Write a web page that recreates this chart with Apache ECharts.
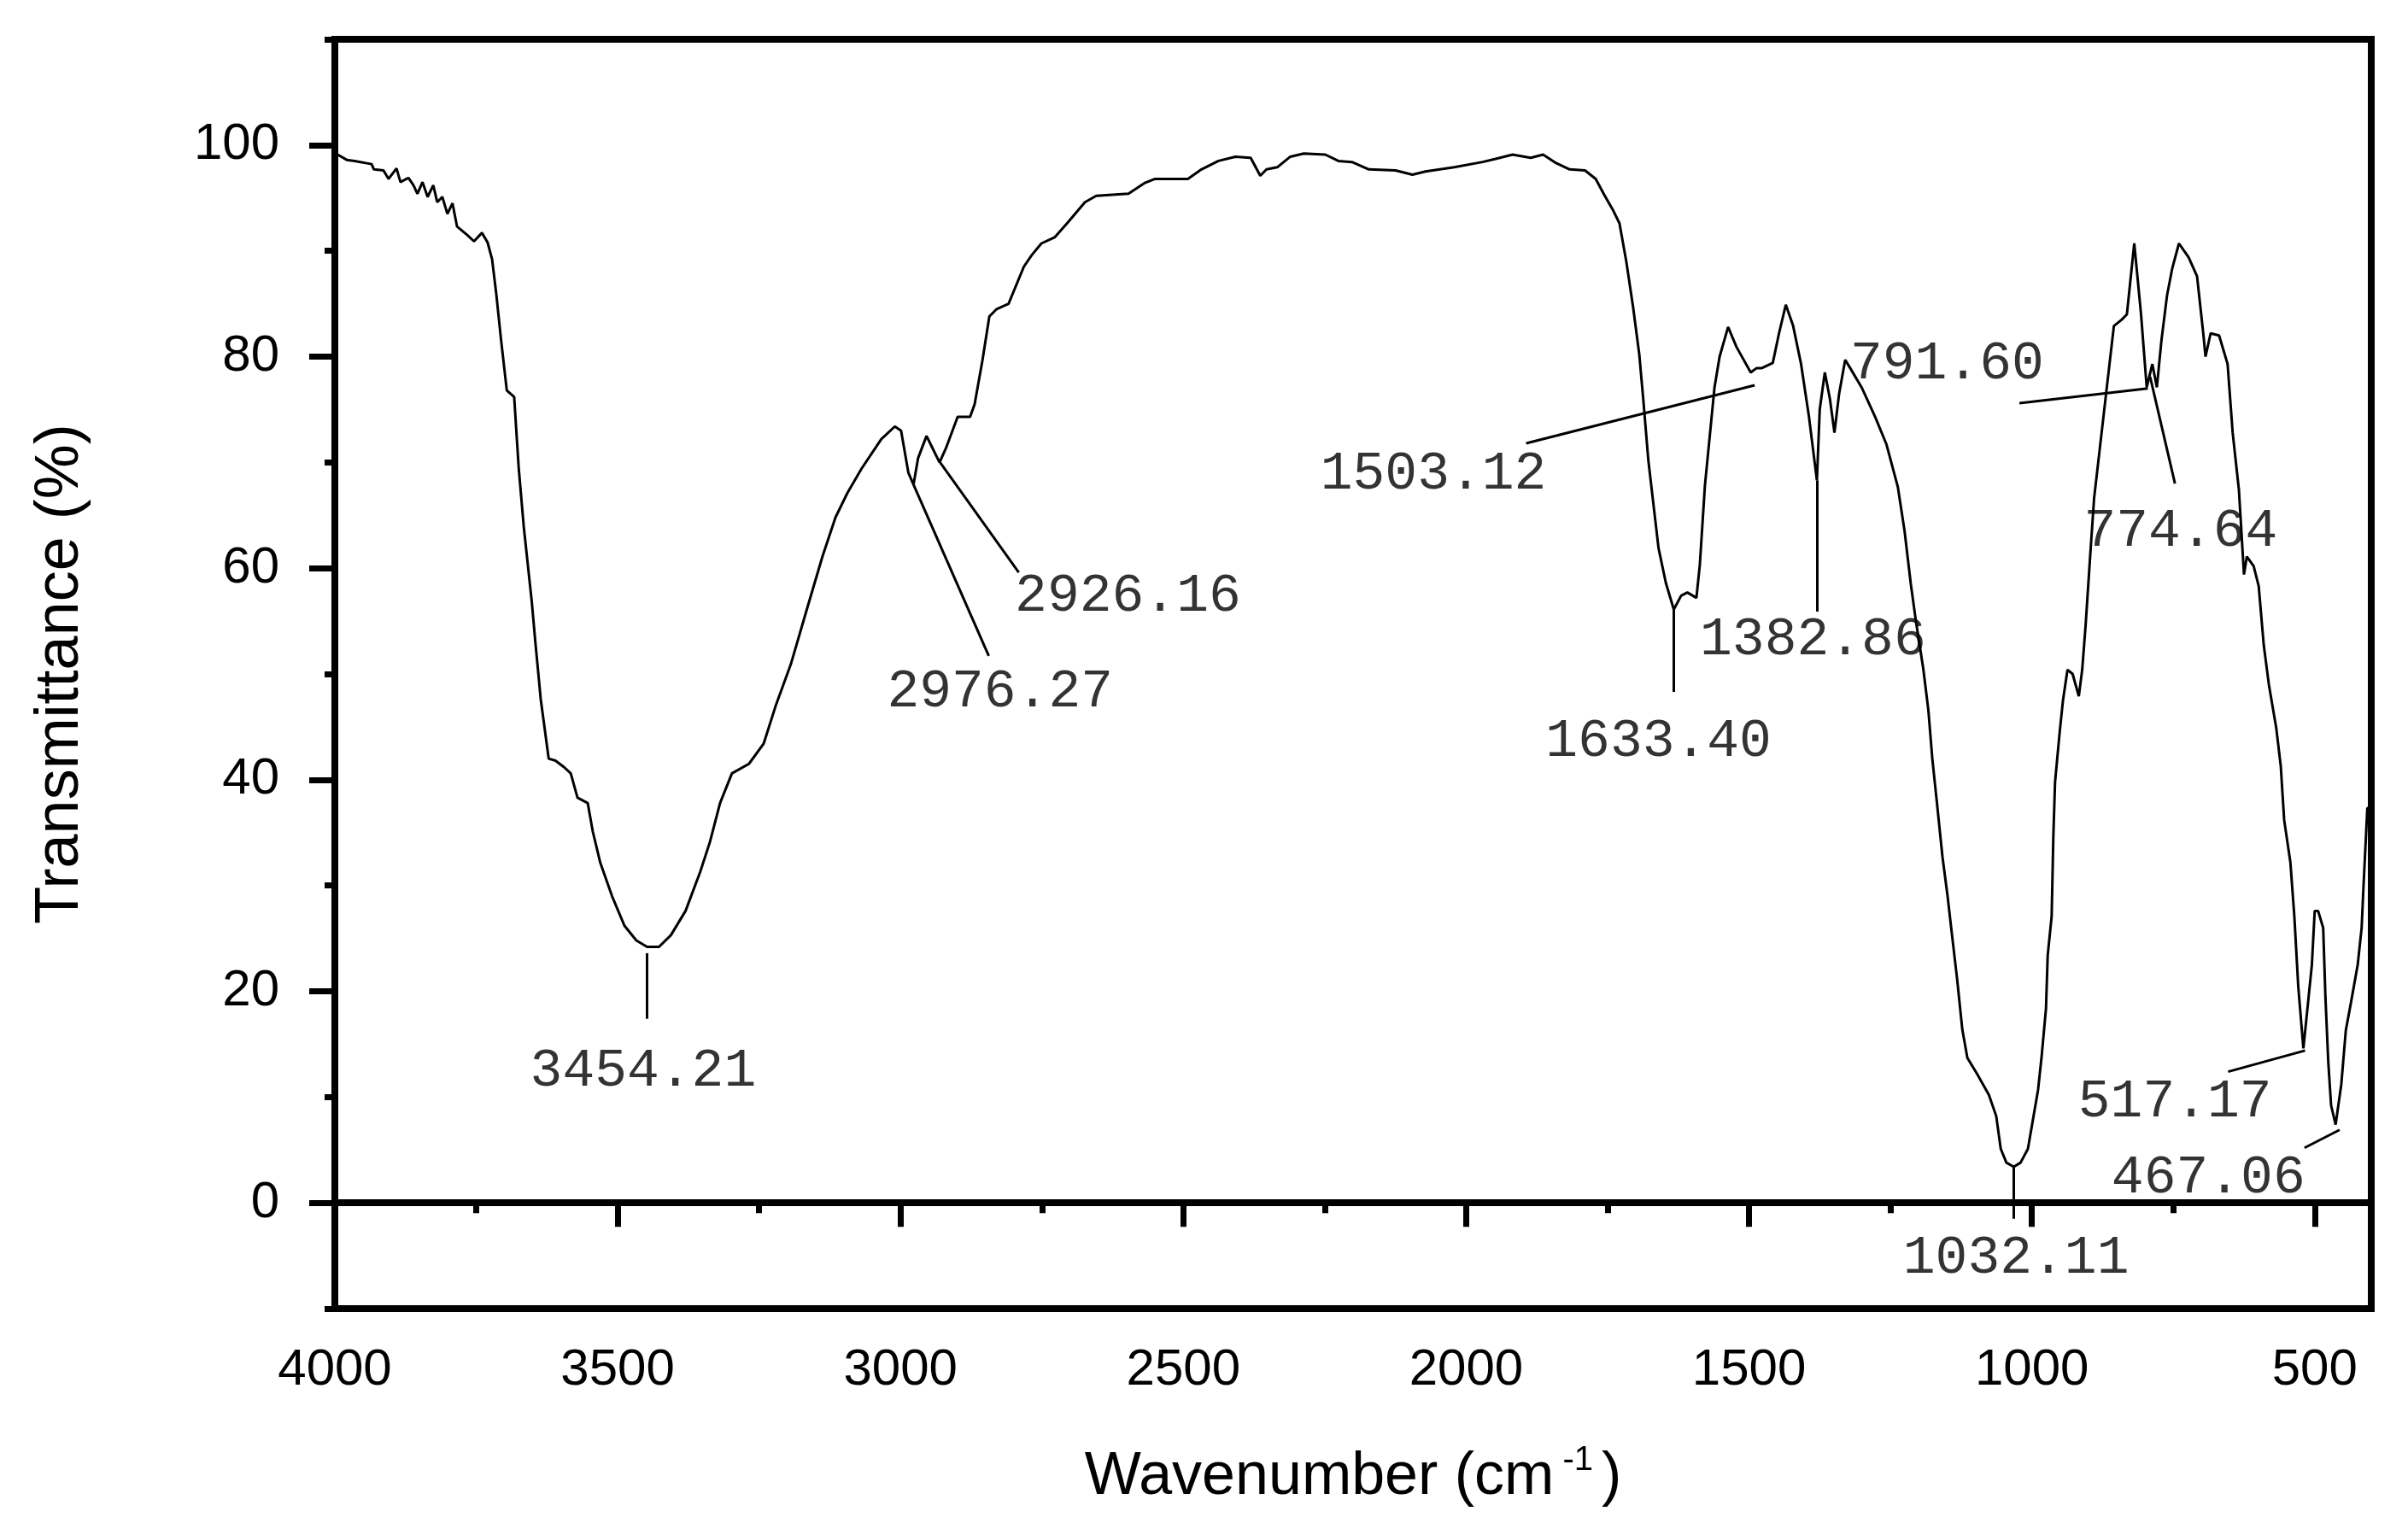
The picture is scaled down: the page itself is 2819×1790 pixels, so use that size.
<!DOCTYPE html>
<html>
<head>
<meta charset="utf-8">
<title>FTIR spectrum</title>
<script src="https://cdn.jsdelivr.net/npm/echarts@6/dist/echarts.min.js"></script>
<style>
  html, body { margin: 0; padding: 0; background: #fff; }
  #chart { width: 2819px; height: 1790px; }
</style>
</head>
<body>
<div id="chart"></div>
<script>
// spectrum: wavenumber (cm-1) and transmittance (%)
const wavenumber = [
  4000, 3995, 3979, 3965, 3935, 3931, 3914, 3905, 3891, 3884, 3870, 3861, 3854, 3845, 3836, 3826,
  3819, 3810, 3801, 3792, 3784, 3766, 3754, 3740, 3730, 3722, 3715, 3706, 3696, 3683, 3675, 3666,
  3652, 3645, 3636, 3622, 3610, 3595, 3583, 3571, 3553, 3544, 3531, 3510, 3488, 3467, 3448, 3427,
  3406, 3380, 3354, 3337, 3319, 3298, 3268, 3242, 3220, 3194, 3164, 3138, 3115, 3094, 3069, 3034,
  3010, 2999, 2986, 2977, 2969, 2954, 2943, 2931, 2920, 2899, 2877, 2869, 2855, 2843, 2830, 2809,
  2782, 2768, 2751, 2727, 2704, 2674, 2654, 2597, 2569, 2550, 2492, 2468, 2438, 2408, 2381, 2364,
  2353, 2334, 2311, 2287, 2249, 2226, 2202, 2172, 2125, 2095, 2072, 2021, 1971, 1948, 1918, 1886,
  1864, 1841, 1817, 1790, 1771, 1755, 1740, 1729, 1717, 1705, 1694, 1687, 1678, 1670, 1660, 1647,
  1633, 1620, 1609, 1593, 1587, 1578, 1561, 1552, 1537, 1522, 1497, 1487, 1478, 1458, 1447, 1435,
  1422, 1408, 1394, 1380, 1375, 1366, 1357, 1349, 1341, 1330, 1321, 1301, 1277, 1257, 1237, 1225,
  1214, 1205, 1192, 1183, 1176, 1167, 1158, 1149, 1142, 1132, 1123, 1114, 1097, 1076, 1063, 1055,
  1045, 1032, 1020, 1007, 997, 989, 983, 975, 972, 965, 962, 959, 951, 945, 937, 928,
  917, 911, 905, 897, 890, 869, 855, 841, 832, 819, 807, 797, 787, 779, 771, 761,
  752, 740, 723, 708, 697, 693, 684, 669, 654, 645, 634, 625, 620, 608, 599, 590,
  581, 568, 560, 554, 543, 536, 529, 520, 505, 500, 494, 485, 481, 476, 471, 463,
  453, 445, 436, 424, 417, 414, 407, 400
];
const transmittance = [
  99.3, 99.1, 98.6, 98.5, 98.2, 97.7, 97.6, 96.8, 97.8, 96.5, 96.9, 96.2, 95.4, 96.5, 95.1, 96.2,
  94.6, 95.1, 93.5, 94.5, 92.3, 91.5, 90.9, 91.7, 90.8, 89.2, 86.1, 81.5, 76.8, 76.2, 69.5, 63.9,
  56.9, 52.7, 47.6, 42.0, 41.8, 41.2, 40.6, 38.3, 37.8, 35.1, 32.2, 29.0, 26.2, 24.8, 24.2, 24.2,
  25.3, 27.6, 31.3, 34.1, 37.8, 40.6, 41.5, 43.4, 47.1, 50.9, 56.4, 61.1, 64.8, 67.1, 69.4, 72.2,
  73.4, 73.0, 69.0, 67.9, 70.4, 72.5, 71.3, 70.0, 71.3, 74.3, 74.3, 75.5, 79.7, 83.8, 84.5, 85.0,
  88.5, 89.6, 90.7, 91.3, 92.7, 94.6, 95.2, 95.4, 96.4, 96.8, 96.8, 97.7, 98.5, 98.9, 98.8, 97.1,
  97.7, 97.9, 98.9, 99.2, 99.1, 98.5, 98.4, 97.7, 97.6, 97.2, 97.5, 97.9, 98.4, 98.7, 99.1, 98.8,
  99.1, 98.3, 97.7, 97.6, 96.8, 95.2, 93.8, 92.6, 89.0, 84.7, 80.2, 76.0, 70.2, 66.5, 61.9, 58.6,
  56.1, 57.4, 57.7, 57.2, 60.3, 67.8, 77.1, 80.0, 82.8, 80.9, 78.5, 78.9, 78.9, 79.4, 82.2, 84.9,
  82.9, 79.3, 74.3, 68.3, 75.0, 78.5, 76.0, 72.8, 76.4, 79.7, 78.9, 77.1, 74.3, 71.7, 67.7, 63.5,
  58.5, 55.0, 50.5, 46.6, 42.0, 37.4, 32.7, 29.0, 25.7, 21.1, 16.4, 13.7, 12.2, 10.2, 8.2, 5.1,
  3.8, 3.4, 3.8, 5.1, 8.2, 10.7, 13.7, 18.4, 23.4, 27.1, 34.7, 39.8, 44.4, 47.5, 50.4, 50.0,
  47.9, 50.4, 54.6, 61.1, 66.6, 76.4, 82.9, 83.5, 84.0, 90.7, 84.0, 77.1, 79.3, 77.1, 81.5, 85.8,
  88.3, 90.7, 89.4, 87.6, 82.2, 80.0, 82.2, 82.0, 79.3, 72.8, 67.4, 59.4, 61.1, 60.2, 58.3, 52.7,
  49.0, 44.9, 41.3, 36.2, 32.2, 27.1, 20.4, 14.6, 22.5, 27.6, 27.6, 26.0, 19.4, 13.3, 9.2, 7.4,
  11.2, 16.3, 18.9, 22.5, 26.0, 29.6, 37.3, 37.5
];

// tick values
const xMajorTicks = [500, 1000, 1500, 2000, 2500, 3000, 3500, 4000];
const xMinorTicks = [750, 1250, 1750, 2250, 2750, 3250, 3750];
const yMajorTicks = [0, 20, 40, 60, 80, 100];
const yMinorTicks = [-10, 10, 30, 50, 70, 90, 110];

// peak annotations: text, where the text sits, and its leader line (all in data units)
const peakLabels = ['3454.21', '2976.27', '2926.16', '1503.12', '1633.40', '1382.86',
  '791.60', '774.64', '1032.11', '517.17', '467.06'];
const labelAt = [[3455, 12.4], [2824, 48.3], [2598, 57.3], [2058, 68.9], [1660, 43.6], [1387, 53.2],
  [1150, 79.3], [737, 63.5], [1028, -5.3], [747, 9.5], [688, 2.3]];
const leaderFrom = [[3449, 23.6], [2977, 67.9], [2930, 70.0], [1894, 71.8], [1633, 56.1], [1380, 68.3],
  [1022, 75.6], [747, 68.0], [1032, 3.4], [653, 12.4], [518, 5.2]];
const leaderTo = [[3449, 17.4], [2844, 51.7], [2791, 59.6], [1490, 77.3], [1633, 48.3], [1380, 55.9],
  [795, 77.0], [791, 78.1], [1032, -1.5], [517, 14.4], [456, 6.9]];

const chart = echarts.init(document.getElementById('chart'));

const axisFont = { fontFamily: 'Liberation Sans', fontSize: 60, color: '#000' };

const option = {
  backgroundColor: '#fff',
  animation: false,
  grid: {
    left: 392, right: 43, top: 46, bottom: 258,
    show: true, borderColor: '#000', borderWidth: 8
  },
  xAxis: [
    {
      type: 'value', min: 400, max: 4000, inverse: true, position: 'bottom',
      axisLine: { show: true, lineStyle: { color: '#000', width: 8 } },
      axisTick: { show: true, inside: false, length: 28, lineStyle: { color: '#000', width: 7 }, customValues: xMajorTicks },
      axisLabel: { show: true, margin: 42, customValues: xMajorTicks, formatter: v => String(v), ...axisFont },
      splitLine: { show: false },
      name: '{a|Wavenumber (cm}{sup|-1}{a|)}',
      nameLocation: 'middle',
      nameGap: 158,
      nameTextStyle: {
        rich: {
          a: { fontFamily: 'Liberation Sans', fontSize: 70, color: '#000', lineHeight: 80 },
          sup: { fontFamily: 'Liberation Sans', fontSize: 40, color: '#000', verticalAlign: 'top', lineHeight: 40, padding: [0, 10, 0, 10] }
        }
      }
    },
    {
      type: 'value', min: 400, max: 4000, inverse: true, position: 'bottom',
      axisLine: { show: false },
      axisTick: { show: true, length: 12, lineStyle: { color: '#000', width: 7 }, customValues: xMinorTicks },
      axisLabel: { show: false },
      splitLine: { show: false }
    }
  ],
  yAxis: [
    {
      type: 'value', min: -10, max: 110, position: 'left',
      axisLine: { show: true, lineStyle: { color: '#000', width: 8 } },
      axisTick: { show: true, length: 30, lineStyle: { color: '#000', width: 7 }, customValues: yMajorTicks },
      axisLabel: { show: true, margin: 65, customValues: yMajorTicks, formatter: v => String(v), ...axisFont },
      splitLine: { show: false },
      name: 'Transmittance (%)',
      nameLocation: 'middle',
      nameGap: 285,
      nameTextStyle: { fontFamily: 'Liberation Sans', fontSize: 72, color: '#000' }
    },
    {
      type: 'value', min: -10, max: 110, position: 'left',
      axisLine: { show: false },
      axisTick: { show: true, length: 12, lineStyle: { color: '#000', width: 7 }, customValues: yMinorTicks },
      axisLabel: { show: false },
      splitLine: { show: false }
    }
  ],
  series: [
    {
      type: 'line',
      xAxisIndex: 0, yAxisIndex: 0,
      data: wavenumber.map((w, i) => [w, transmittance[i]]),
      showSymbol: false,
      symbol: 'none',
      lineStyle: { color: '#000', width: 3 },
      silent: true,
      markLine: {
        silent: true,
        symbol: ['none', 'none'],
        label: { show: false },
        lineStyle: { color: '#000', width: 3, type: 'solid' },
        data: leaderFrom.map((p, i) => [{ coord: p }, { coord: leaderTo[i] }])
      }
    },
    {
      type: 'scatter',
      xAxisIndex: 0, yAxisIndex: 0,
      symbolSize: 0,
      silent: true,
      data: peakLabels.map((t, i) => ({ name: t, value: labelAt[i] })),
      label: {
        show: true,
        position: 'inside',
        formatter: '{b}',
        fontFamily: 'Liberation Mono',
        fontSize: 63,
        color: '#000'
      }
    }
  ]
};

chart.setOption(option);
window.addEventListener('resize', () => chart.resize());
</script>
</body>
</html>
